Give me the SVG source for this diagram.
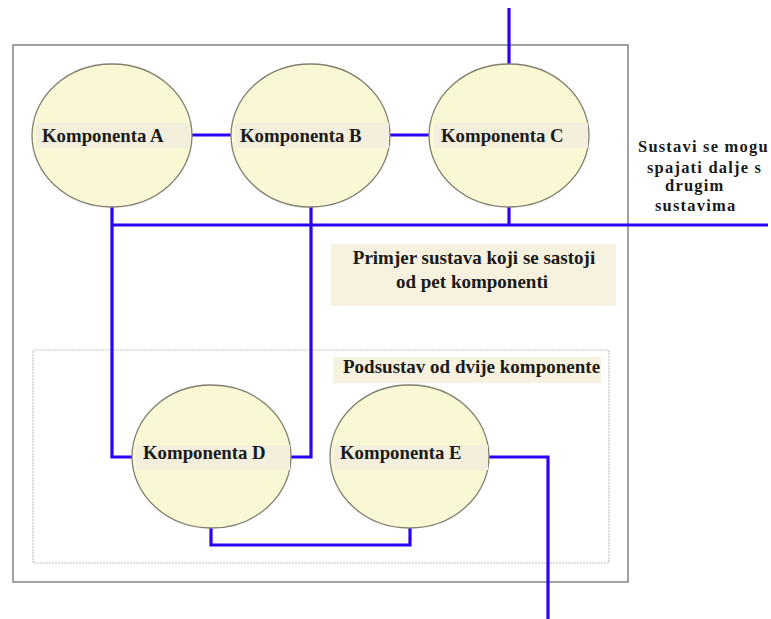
<svg xmlns="http://www.w3.org/2000/svg" width="771" height="619" viewBox="0 0 771 619">
<style>
.frame{fill:#ffffff;stroke:#8a8a8a;stroke-width:1.6}
.sub{fill:none;stroke:#c4c4c4;stroke-width:1.2;stroke-dasharray:2 1}
.node{fill:#faf8d4;stroke:#808070;stroke-width:1.3}
.band{fill:#f3efdc}
.note{fill:#f6f2df}
.wire{fill:none;stroke:#2b00ff;stroke-width:3.2;stroke-linejoin:miter}
text{font-family:"Liberation Serif","Times New Roman",serif;font-weight:bold;fill:#1a1a1a}
.lbl{font-size:18.8px}
.t{font-size:19px}
.s{font-size:16.5px;letter-spacing:1.2px}
</style>
<rect class="frame" x="13" y="45" width="615" height="537"/>
<rect class="sub" x="33" y="350" width="576" height="213"/>
<g id="note-main">
<rect class="note" x="331" y="244" width="285" height="62"/>
<text class="t" x="474" y="264" text-anchor="middle">Primjer sustava koji se sastoji</text>
<text class="t" x="472" y="288" text-anchor="middle">od pet komponenti</text>
</g>
<g id="note-sub">
<rect class="note" x="333" y="357" width="268" height="26"/>
<text class="t" x="343" y="373">Podsustav od dvije komponente</text>
</g>
<g id="note-ext">
<text class="s" x="638" y="152">Sustavi se mogu</text>
<text class="s" x="647" y="173">spajati dalje s</text>
<text class="s" x="665" y="191">drugim</text>
<text class="s" x="655" y="211">sustavima</text>
</g>
<g id="connectors">
<path class="wire" d="M192 135 H231"/>
<path class="wire" d="M390 135 H429"/>
<path class="wire" d="M509 8 V64"/>
<path class="wire" d="M509 207 V225"/>
<path class="wire" d="M112 225 H768"/>
<path class="wire" d="M112 207 V457 H132"/>
<path class="wire" d="M311 207 V457 H291"/>
<path class="wire" d="M211 528 V545 H410 V528"/>
<path class="wire" d="M489 457 H548 V619"/>
</g>
<g id="komponenta-a">
<ellipse class="node" cx="112" cy="135.5" rx="80" ry="71.5"/>
<rect class="band" x="36" y="123" width="154" height="25"/>
<text class="lbl" x="42" y="142">Komponenta A</text>
</g>
<g id="komponenta-b">
<ellipse class="node" cx="310.5" cy="135.5" rx="79.5" ry="71.5"/>
<rect class="band" x="235" y="123" width="154" height="25"/>
<text class="lbl" x="240" y="142">Komponenta B</text>
</g>
<g id="komponenta-c">
<ellipse class="node" cx="509" cy="135.5" rx="80" ry="71.5"/>
<rect class="band" x="434" y="123" width="154" height="25"/>
<text class="lbl" x="441" y="142">Komponenta C</text>
</g>
<g id="komponenta-d">
<ellipse class="node" cx="211.5" cy="456.5" rx="79.5" ry="71.5"/>
<rect class="band" x="136" y="445" width="154" height="25"/>
<text class="lbl" x="143" y="459">Komponenta D</text>
</g>
<g id="komponenta-e">
<ellipse class="node" cx="409.5" cy="456.5" rx="79.5" ry="71.5"/>
<rect class="band" x="334" y="445" width="154" height="25"/>
<text class="lbl" x="340" y="459">Komponenta E</text>
</g>
</svg>
